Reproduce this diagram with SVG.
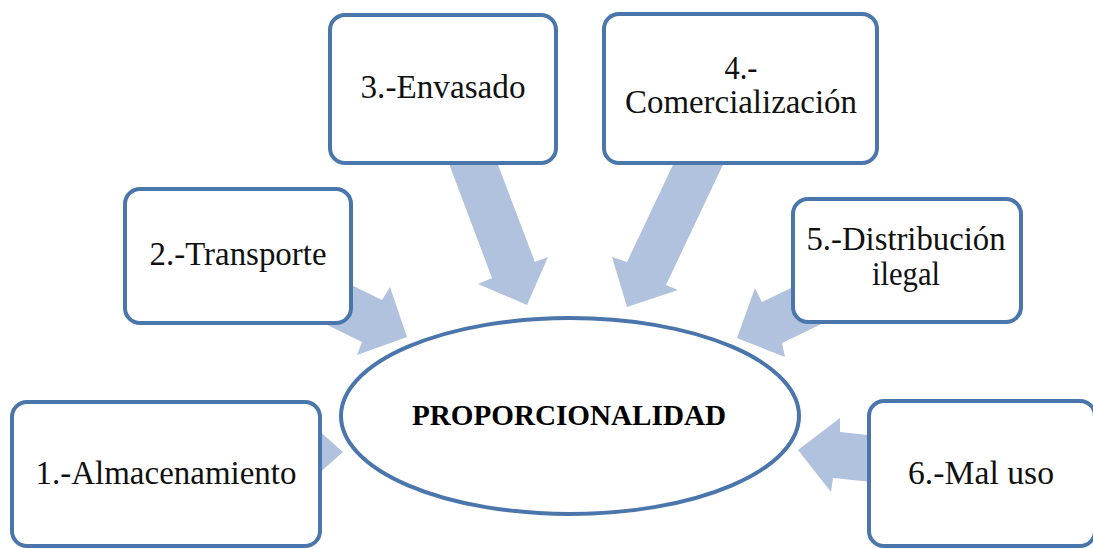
<svg xmlns="http://www.w3.org/2000/svg" width="1093" height="549" viewBox="0 0 1093 549">
<style>
.arrow{fill:#b0c2dd;stroke:none}
.box{fill:#ffffff;stroke:#4a76ab;stroke-width:4}
.lbl{font-family:"Liberation Serif","Times New Roman",serif;font-size:33px;font-weight:normal;fill:#111;text-anchor:middle}
.main{font-family:"Liberation Serif","Times New Roman",serif;font-size:29px;font-weight:bold;fill:#000;text-anchor:middle}
</style>
<rect width="1093" height="549" fill="#ffffff"/>
<g id="connectors">
<polygon class="arrow" points="200,429 300,429 300,414 343,452 300,490 300,475 200,475"/>
<polygon class="arrow" points="274,247 382,300 390,287 407,337 357,355 362,342 254,289"/>
<polygon class="arrow" points="422,92 492,278 478,284 527,305 548,257 535,262 471,94"/>
<polygon class="arrow" points="706,95 627,262 612,257 627,307 678,290 666,285 756,95"/>
<polygon class="arrow" points="870,250 762,302 755,288 737,338 785,357 782,343 890,291"/>
<polygon class="arrow" points="950,444 840,432 840,418 798,450 831,492 833,478 950,490"/>
</g>
<g id="center">
<ellipse class="box" cx="570" cy="416" rx="229" ry="98"/>
<text class="main" x="569" y="425" textLength="314" lengthAdjust="spacingAndGlyphs">PROPORCIONALIDAD</text>
</g>
<g id="n1">
<rect class="box" x="12" y="402" width="308" height="144" rx="15"/>
<text class="lbl" x="166" y="484" textLength="261" lengthAdjust="spacingAndGlyphs">1.-Almacenamiento</text>
</g>
<g id="n2">
<rect class="box" x="125" y="189" width="226" height="134" rx="15"/>
<text class="lbl" x="238" y="265" textLength="177" lengthAdjust="spacingAndGlyphs">2.-Transporte</text>
</g>
<g id="n3">
<rect class="box" x="330" y="15" width="226" height="148" rx="15"/>
<text class="lbl" x="443" y="98" textLength="165" lengthAdjust="spacingAndGlyphs">3.-Envasado</text>
</g>
<g id="n4">
<rect class="box" x="604" y="14" width="273" height="149" rx="15"/>
<text class="lbl" x="741" y="79" textLength="33" lengthAdjust="spacingAndGlyphs">4.-</text>
<text class="lbl" x="741" y="113" textLength="232" lengthAdjust="spacingAndGlyphs">Comercialización</text>
</g>
<g id="n5">
<rect class="box" x="793" y="199" width="228" height="123" rx="15"/>
<text class="lbl" x="906" y="250" textLength="199" lengthAdjust="spacingAndGlyphs">5.-Distribución</text>
<text class="lbl" x="906" y="285" textLength="68" lengthAdjust="spacingAndGlyphs">ilegal</text>
</g>
<g id="n6">
<rect class="box" x="869" y="401" width="226" height="145" rx="15"/>
<text class="lbl" x="981" y="484" textLength="146" lengthAdjust="spacingAndGlyphs">6.-Mal uso</text>
</g>
</svg>
